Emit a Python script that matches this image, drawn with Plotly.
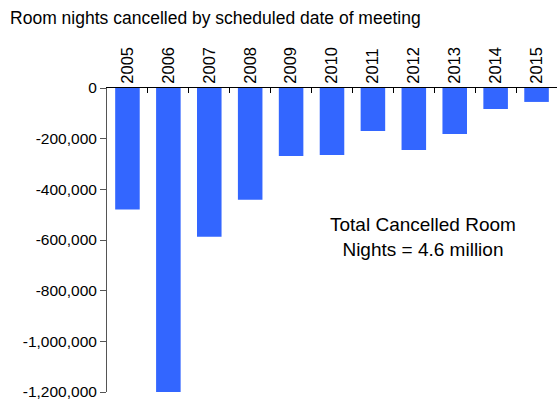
import plotly.graph_objects as go

years = ["2005", "2006", "2007", "2008", "2009", "2010", "2011", "2012", "2013", "2014", "2015"]
cancelled = [-480000, -1210000, -587000, -441000, -268000, -264000, -170000, -245000, -182000, -83000, -55000]
y_ticks = [0, -200000, -400000, -600000, -800000, -1000000, -1200000]
y_tick_labels = ["0", "-200,000", "-400,000", "-600,000", "-800,000", "-1,000,000", "-1,200,000"]

FONT = "Liberation Sans, Arial, sans-serif"

fig = go.Figure(go.Bar(
    x=years, y=cancelled,
    marker=dict(color="#3366FF", line_width=0),
    cliponaxis=False,
))

fig.update_layout(
    width=560, height=402,
    margin=dict(l=107, r=3, t=88, b=10, autoexpand=False),
    paper_bgcolor="white", plot_bgcolor="white",
    font=dict(family=FONT, size=15, color="black"),
    bargap=0.4,
    showlegend=False,
    title=dict(
        text="Room nights cancelled by scheduled date of meeting",
        font=dict(family=FONT, size=17.5, color="black"),
        x=0.018, xanchor="left", xref="container",
        y=0.955, yanchor="middle", yref="container",
    ),
)

fig.update_xaxes(
    side="top", tickangle=-90, automargin=False,
    showline=True, linecolor="black", linewidth=1,
    ticks="inside", ticklen=5, tickcolor="black", tickson="boundaries",
    showgrid=False, tickfont=dict(size=16.5),
)
fig.update_yaxes(
    range=[-1200000, 0], automargin=False,
    tickvals=y_ticks, ticktext=y_tick_labels,
    showline=True, linecolor="#555", linewidth=1,
    ticks="outside", ticklen=6, tickcolor="#555",
    showgrid=False, zeroline=False, tickfont=dict(size=15.5),
)

fig.add_annotation(
    text="Total Cancelled Room<br>Nights = 4.6 million",
    x=0.702, y=0.51, xref="paper", yref="paper",
    xanchor="center", yanchor="middle",
    showarrow=False, align="center",
    font=dict(family=FONT, size=19, color="black"),
)

# the page body has a default 8px margin; drop it so the figure sits at 0,0
fig.write_html(
    "out.html",
    config={"displayModeBar": False},
    post_script="document.body.style.margin='0';",
)
